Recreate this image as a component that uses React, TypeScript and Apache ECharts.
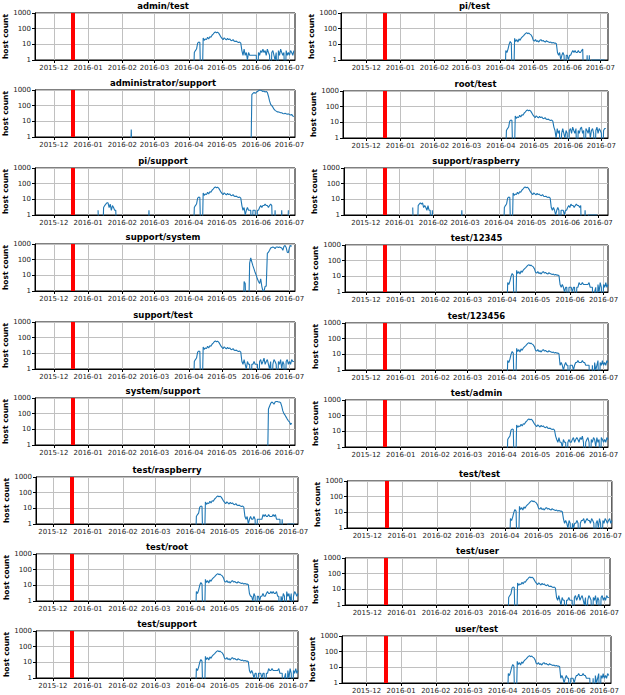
import React, { useEffect, useRef } from 'react';
import * as echarts from 'echarts';

// ---------- labels ----------
const panelTitles = [
  'admin/test', 'administrator/support', 'pi/support', 'support/system', 'support/test',
  'system/support', 'test/raspberry', 'test/root', 'test/support',
  'pi/test', 'root/test', 'support/raspberry', 'test/12345', 'test/123456',
  'test/admin', 'test/test', 'test/user', 'user/test',
];
const xTickDates = ['2015-12-01', '2016-01-01', '2016-02-01', '2016-03-01', '2016-04-01', '2016-05-01', '2016-06-01', '2016-07-01'];
const xTickLabels = ['2015-12', '2016-01', '2016-02', '2016-03', '2016-04', '2016-05', '2016-06', '2016-07'];
const yTickLabels = [1, 10, 100, 1000];
const eventDate = '2015-12-18';
const yAxisTitle = 'host count';

// ---------- daily host counts (each array = consecutive days from its start date) ----------
// spring wave, starting 2016-04-05
const springA = [0, 3, 4, 5, 12, 14, 13, 0, 0, 25, 18, 22, 20, 28, 22, 30, 28, 38, 45, 55, 62, 55, 60, 52, 40, 30,
  24, 20, 26, 22, 19, 24, 20, 22, 18, 17, 20, 16, 15, 16, 14, 13, 14, 12];
const springB = [0, 4, 3, 5, 10, 15, 12, 0, 0, 24, 15, 20, 14, 22, 18, 25, 30, 35, 42, 50, 55, 48, 52, 45, 40, 30,
  18, 16, 20, 15, 17, 14, 18, 20, 16, 18, 15, 14, 17, 15, 14, 13, 14, 12, 13, 12, 12, 11];
// tails after the wave
const tailA = [4, 2, 5, 2, 3, 1, 3, 2, 2, 2, 2, 2, 2, 2, 0, 3, 2, 4, 3, 5, 3, 4, 2, 5, 3, 2, 0, 3, 4, 2, 1, 3, 0, 4, 2, 5,
  3, 2, 3, 0, 4, 2, 3, 2, 4, 3, 2, 4];
const tailA2 = [3, 2, 4, 2, 1, 3, 2, 2, 0, 2, 2, 3, 2, 2, 2, 0, 3, 4, 2, 3, 5, 2, 3, 4, 2, 1, 3, 0, 2, 4, 3, 2, 0, 3, 2, 4,
  1, 3, 2, 0, 3, 4, 2, 3, 2, 4, 3, 3];
const tailA3 = [5, 3, 2, 4, 2, 2, 1, 3, 2, 2, 0, 2, 3, 2, 2, 3, 4, 2, 3, 4, 3, 2, 4, 3, 5, 2, 0, 2, 3, 4, 2, 0, 3, 2, 4, 3,
  1, 4, 2, 3, 0, 4, 3, 2, 3, 2, 4, 3];
const rootTail = [5, 3, 1, 4, 2, 3, 0, 2, 4, 2, 1, 3, 2, 0, 3, 4, 2, 5, 3, 2, 4, 0, 3, 2, 4, 5, 2, 3, 0, 4, 3, 2, 5, 1, 3, 4,
  2, 0, 3, 5, 2, 4, 3, 2, 0, 3, 4, 4];
const tailB = [3, 2, 3, 1, 2, 3, 2, 0, 2, 2, 1, 2, 2, 3, 4, 3, 4, 3, 3, 4, 3, 3, 4, 5, 0, 0, 0, 2, 0, 2, 0, 1, 1, 1, 1, 1,
  1, 1, 1, 1, 1, 1, 1, 1];
const tailRasp = [3, 2, 3, 1, 2, 3, 2, 2, 3, 2, 0, 2, 2, 2, 2, 2, 4, 3, 4, 3, 3, 4, 3, 3, 3, 4, 3, 4, 2, 2, 2, 2, 0, 2, 0,
  0, 0, 0, 1, 1, 1, 1, 1, 1, 1];
const piSupTail = [4, 2, 3, 1, 2, 3, 2, 2, 2, 0, 2, 2, 2, 0, 2, 2, 3, 4, 3, 4, 4, 5, 4, 4, 3, 4, 5, 4, 0, 0, 2, 0, 0, 0, 0,
  0, 2, 0, 0, 0, 0, 0, 2];
const supRaspTail = [3, 2, 3, 2, 1, 2, 3, 2, 0, 2, 2, 2, 1, 2, 2, 3, 4, 3, 5, 4, 4, 3, 4, 5, 4, 4, 3, 4, 0, 0, 0, 2, 0, 0,
  1, 1, 1, 1, 1, 1, 1, 1, 1];
const tailC = [3, 2, 3, 2, 1, 2, 2, 0, 2, 2, 2, 1, 2, 2, 0, 2, 2, 4, 3, 3, 4, 3, 3, 3, 3, 3, 4, 2, 2, 2, 0, 1, 2, 0, 3, 1,
  4, 2, 0, 3, 2, 4, 2, 3];
const tailC2 = [3, 2, 2, 1, 3, 2, 0, 2, 2, 1, 2, 2, 3, 2, 2, 3, 4, 3, 3, 4, 3, 4, 3, 3, 4, 2, 2, 0, 2, 1, 3, 2, 0, 4, 2, 3,
  1, 3, 0, 2, 4, 3, 2, 3];
const tailC3 = [2, 3, 2, 1, 2, 3, 2, 2, 0, 2, 2, 2, 1, 2, 3, 3, 4, 3, 3, 3, 4, 3, 3, 2, 2, 2, 2, 0, 0, 2, 0, 3, 1, 2, 4, 0,
  3, 2, 4, 2, 3, 2, 4, 3];
const tailC4 = [4, 2, 3, 2, 1, 3, 2, 0, 2, 1, 2, 2, 3, 2, 0, 2, 3, 3, 4, 2, 3, 4, 3, 3, 2, 4, 3, 2, 0, 2, 3, 1, 4, 2, 0, 3,
  2, 4, 3, 2, 3, 4, 2, 3];
// early-year blips
const piSupJan = [2, 0, 0, 0, 0, 3, 4, 5, 6, 6, 3, 5, 2, 4, 3, 2, 2, 0];
const piSupFeb = [0, 2, 0];
const supRaspJan = [3, 0, 0, 0, 0, 4, 5, 6, 5, 6, 3, 4, 3, 2, 4, 2, 2, 0, 2, 0];
const supRaspFeb = [0, 2, 0];
const adminSupFeb = [0, 3, 0];
// large campaigns
const adminSupJun = [0, 500, 600, 700, 600, 700, 800, 900, 1000, 950, 900, 800, 850, 750, 800, 700, 400, 200, 120, 100,
  80, 60, 50, 45, 40, 40, 38, 35, 35, 32, 30, 33, 30, 28, 30, 27, 25, 28, 22, 20];
const supportSystemMay = [0, 4, 3, 0, 0, 0, 60, 130, 70, 40, 25, 15, 10, 6, 4, 3, 6, 2, 1, 1, 2, 2, 250, 300, 400, 550,
  600, 650, 600, 500, 650, 650, 600, 650, 600, 550, 400, 700, 800, 600, 300, 280, 600, 800, 700];
const systemSupportJun = [0, 200, 300, 450, 550, 500, 400, 550, 600, 600, 550, 550, 500, 300, 150, 100, 80, 60, 45, 35,
  30, 20, 25];

type Seg = [string, number[]];
const segAdminTest: Seg[] = [['2016-04-05', springA], ['2016-05-19', tailA]];
const segAdministratorSupport: Seg[] = [['2016-02-08', adminSupFeb], ['2016-05-27', adminSupJun]];
const segPiSupport: Seg[] = [['2016-01-10', piSupJan], ['2016-02-24', piSupFeb], ['2016-04-05', springA], ['2016-05-19', piSupTail]];
const segSupportSystem: Seg[] = [['2016-05-20', supportSystemMay]];
const segSupportTest: Seg[] = [['2016-04-05', springA], ['2016-05-19', tailA2]];
const segSystemSupport: Seg[] = [['2016-06-11', systemSupportJun]];
const segTestRaspberry: Seg[] = [['2016-04-05', springA], ['2016-05-19', tailRasp]];
const segTestRoot: Seg[] = [['2016-04-05', springB], ['2016-05-23', tailC2]];
const segTestSupport: Seg[] = [['2016-04-05', springB], ['2016-05-23', tailC]];
const segPiTest: Seg[] = [['2016-04-05', springB], ['2016-05-23', tailB]];
const segRootTest: Seg[] = [['2016-04-05', springA], ['2016-05-19', rootTail]];
const segSupportRaspberry: Seg[] = [['2016-01-13', supRaspJan], ['2016-02-26', supRaspFeb], ['2016-04-05', springA], ['2016-05-19', supRaspTail]];
const segTest12345: Seg[] = [['2016-04-05', springB], ['2016-05-23', tailC]];
const segTest123456: Seg[] = [['2016-04-05', springB], ['2016-05-23', tailC3]];
const segTestAdmin: Seg[] = [['2016-04-05', springA], ['2016-05-19', tailA3]];
const segTestTest: Seg[] = [['2016-04-05', springB], ['2016-05-23', tailC4]];
const segTestUser: Seg[] = [['2016-04-05', springA], ['2016-05-19', tailA2]];
const segUserTest: Seg[] = [['2016-04-05', springB], ['2016-05-23', tailC3]];

const panelSegs = [
  segAdminTest, segAdministratorSupport, segPiSupport, segSupportSystem, segSupportTest, segSystemSupport,
  segTestRaspberry, segTestRoot, segTestSupport,
  segPiTest, segRootTest, segSupportRaspberry, segTest12345, segTest123456, segTestAdmin, segTestTest,
  segTestUser, segUserTest,
];

// ---------- layout (pixels / axis ranges) ----------
// [left, top, right, xMin, xMax]
const layouts: [number, number, number, string, string][] = [
  [31, 13, 295, '2015-11-14', '2016-07-06'],
  [31, 90, 295, '2015-11-14', '2016-07-06'],
  [31, 168, 295, '2015-11-14', '2016-07-06'],
  [31, 244, 295, '2015-11-14', '2016-07-06'],
  [31, 322, 295, '2015-11-14', '2016-07-06'],
  [31, 398, 295, '2015-11-14', '2016-07-06'],
  [36, 477, 298, '2015-11-16', '2016-07-05'],
  [36, 554, 298, '2015-11-16', '2016-07-05'],
  [36, 631, 298, '2015-11-16', '2016-07-05'],
  [341, 13, 608, '2015-11-08', '2016-07-08'],
  [343, 91, 608, '2015-11-10', '2016-07-07'],
  [344, 168, 608, '2015-11-11', '2016-07-10'],
  [345, 245, 608, '2015-11-12', '2016-07-05'],
  [345, 323, 608, '2015-11-12', '2016-07-05'],
  [345, 400, 608, '2015-11-12', '2016-07-05'],
  [347, 481, 612, '2015-11-13', '2016-07-05'],
  [345, 558, 610, '2015-11-11', '2016-07-06'],
  [342, 636, 611, '2015-11-09', '2016-07-07'],
];
const PLOT_H = 47;

const DAY = 86400000;
const ts = (d: string) => Date.parse(d + 'T00:00:00Z');

function toPoints(segs: Seg[]) {
  const pts: [number, number][] = [];
  for (const [start, vals] of segs) {
    const t0 = ts(start);
    vals.forEach((v, i) => pts.push([t0 + i * DAY, v > 0 ? v : 0.01]));
  }
  return pts;
}

const FONT = '"DejaVu Sans", sans-serif';

export default function App() {
  const ref = useRef<HTMLDivElement>(null);
  useEffect(() => {
    if (!ref.current) return;
    const chart = echarts.init(ref.current, undefined, { renderer: 'svg' });
    const tickTs = xTickDates.map(ts);
    const labelOf = (v: number) => {
      const i = tickTs.indexOf(v);
      return i >= 0 ? xTickLabels[i] : '';
    };
    const grids: any[] = [];
    const xAxes: any[] = [];
    const yAxes: any[] = [];
    const series: any[] = [];
    const graphics: any[] = [];
    layouts.forEach(([left, top, right, xMin, xMax], i) => {
      const isLeftCol = i < 9;
      grids.push({
        left, top, width: right - left, height: PLOT_H,
        show: true, borderColor: '#000', borderWidth: 1, backgroundColor: 'transparent',
      });
      xAxes.push({
        type: 'value', gridIndex: i, min: ts(xMin), max: ts(xMax),
        axisLine: { show: true, lineStyle: { color: '#000', width: 1 } },
        axisTick: { show: true, length: 3, customValues: tickTs, lineStyle: { color: '#000' } },
        axisLabel: {
          customValues: tickTs, formatter: (v: number) => labelOf(v),
          fontSize: 7, color: '#222', margin: 4, fontFamily: FONT,
        },
        splitLine: { show: true, lineStyle: { color: '#c0c0c0', width: 1 } },
      });
      yAxes.push({
        type: 'log', logBase: 10, gridIndex: i, min: yTickLabels[0], max: yTickLabels[yTickLabels.length - 1],
        name: yAxisTitle, nameLocation: 'middle', nameGap: isLeftCol ? 26 : 21,
        nameTextStyle: { fontSize: 7.5, fontWeight: 'bold', color: '#000', fontFamily: FONT },
        axisLine: { show: true, lineStyle: { color: '#000', width: 1 } },
        axisTick: { show: true, length: 3, lineStyle: { color: '#000' } },
        axisLabel: {
          fontSize: 7, color: '#222', margin: 4, fontFamily: FONT,
          formatter: (v: number) => String(Math.round(v)),
        },
        splitLine: { show: true, lineStyle: { color: '#c0c0c0', width: 1 } },
      });
      series.push({
        type: 'line', xAxisIndex: i, yAxisIndex: i,
        data: toPoints(panelSegs[i]),
        showSymbol: false, symbol: 'none', clip: true,
        lineStyle: { color: '#1f77b4', width: 1.1 }, itemStyle: { color: '#1f77b4' },
        markLine: {
          silent: true, symbol: 'none', label: { show: false },
          lineStyle: { color: '#ff0000', width: 4, type: 'solid' },
          data: [{ xAxis: ts(eventDate) }],
        },
      });
      graphics.push({
        type: 'text', x: (left + right) / 2, y: top - 3,
        style: {
          text: panelTitles[i], align: 'center', verticalAlign: 'bottom',
          fontSize: 8.5, fontWeight: 'bold', fontFamily: FONT, fill: '#000',
        },
      });
    });
    chart.setOption({
      animation: false,
      backgroundColor: '#fff',
      textStyle: { fontFamily: FONT },
      grid: grids,
      xAxis: xAxes,
      yAxis: yAxes,
      series,
      graphic: graphics,
    });
    return () => chart.dispose();
  }, []);
  return (
    <div
      ref={ref}
      style={{ position: 'fixed', left: 0, top: 0, width: 625, height: 695, background: '#fff' }}
    />
  );
}
